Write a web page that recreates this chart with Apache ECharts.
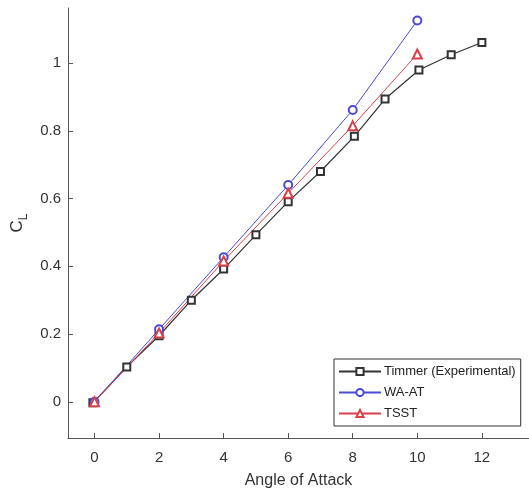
<!DOCTYPE html>
<html>
<head>
<meta charset="utf-8">
<script src="https://cdn.jsdelivr.net/npm/echarts@6/dist/echarts.min.js"></script>
<style>html,body{margin:0;padding:0;background:#fff;}#c{width:529px;height:493px;}</style>
</head>
<body>
<div id="c"></div>
<script>
const seriesNames = ['Timmer (Experimental)', 'WA-AT', 'TSST'];
const timmerAoA = [-0.05, 1, 2, 3, 4, 5, 6, 7, 8.05, 9, 10.05, 11.05, 12];
const timmerCL  = [-0.003, 0.103, 0.195, 0.300, 0.392, 0.493, 0.591, 0.680, 0.784, 0.894, 0.980, 1.025, 1.061];
const waatAoA = [0, 2, 4, 6, 8, 10];
const waatCL  = [0, 0.214, 0.427, 0.640, 0.862, 1.126];
const tsstAoA = [0, 2, 4, 6, 8, 10];
const tsstCL  = [0, 0.203, 0.416, 0.616, 0.815, 1.027];
const xTicks = [0, 2, 4, 6, 8, 10, 12];
const yTicks = [0, 0.2, 0.4, 0.6, 0.8, 1];

const FONT = "'Liberation Sans', Arial, sans-serif";
const zip = (a, b) => a.map((v, i) => [v, b[i]]);

const chart = echarts.init(document.getElementById('c'), null, {renderer: 'canvas'});
chart.setOption({
  animation: false,
  backgroundColor: '#fff',
  grid: {left: 68, top: 8, right: 0, bottom: 55, containLabel: false, outerBoundsMode: 'none'},
  xAxis: {
    type: 'value', min: -0.821, max: 13.46,
    name: 'Angle of Attack', nameLocation: 'middle', nameGap: 35,
    nameTextStyle: {fontFamily: FONT, fontSize: 16, color: '#333'},
    axisLine: {onZero: false, lineStyle: {color: '#555', width: 1}},
    axisTick: {inside: true, length: 5, customValues: xTicks, lineStyle: {color: '#555'}},
    axisLabel: {customValues: xTicks, fontFamily: FONT, fontSize: 15, color: '#333', margin: 12},
    splitLine: {show: false}
  },
  yAxis: {
    type: 'value', min: -0.107, max: 1.163,
    name: '{c|C}{l|L}', nameLocation: 'middle', nameGap: 31, nameRotate: 90,
    nameTextStyle: {
      fontFamily: FONT, color: '#333',
      rich: {
        c: {fontFamily: FONT, fontSize: 17, color: '#333', lineHeight: 20, verticalAlign: 'top'},
        l: {fontFamily: FONT, fontSize: 12, color: '#333', lineHeight: 20, verticalAlign: 'bottom'}
      }
    },
    axisLine: {show: true, onZero: false, lineStyle: {color: '#555', width: 1}},
    axisTick: {show: true, inside: true, length: 5, customValues: yTicks, lineStyle: {color: '#555'}},
    axisLabel: {customValues: yTicks, fontFamily: FONT, fontSize: 15, color: '#333', margin: 7},
    splitLine: {show: false}
  },
  legend: {
    orient: 'vertical', left: 334, top: 359,
    padding: [6, 5, 6, 4], itemGap: 8,
    itemWidth: 42, itemHeight: 9,
    borderColor: '#333', borderWidth: 1, backgroundColor: '#fff',
    textStyle: {fontFamily: FONT, fontSize: 13, color: '#222', padding: [0, 0, 0, -2]},
    data: seriesNames
  },
  series: [
    {name: seriesNames[0], type: 'line', data: zip(timmerAoA, timmerCL),
     symbol: 'emptyRect', symbolSize: 7, color: '#333',
     lineStyle: {width: 1.2, color: '#333'}, itemStyle: {color: '#333', borderWidth: 1.2}},
    {name: seriesNames[1], type: 'line', data: zip(waatAoA, waatCL),
     symbol: 'emptyCircle', symbolSize: 8, color: '#4a4ad4',
     lineStyle: {width: 1, color: '#4a4ad4'}, itemStyle: {color: '#4a4ad4', borderWidth: 1}},
    {name: seriesNames[2], type: 'line', data: zip(tsstAoA, tsstCL),
     symbol: 'emptyTriangle', symbolSize: 9, color: '#d8404a',
     lineStyle: {width: 1, color: '#d8404a'}, itemStyle: {color: '#d8404a', borderWidth: 1}}
  ]
});
</script>
</body>
</html>
